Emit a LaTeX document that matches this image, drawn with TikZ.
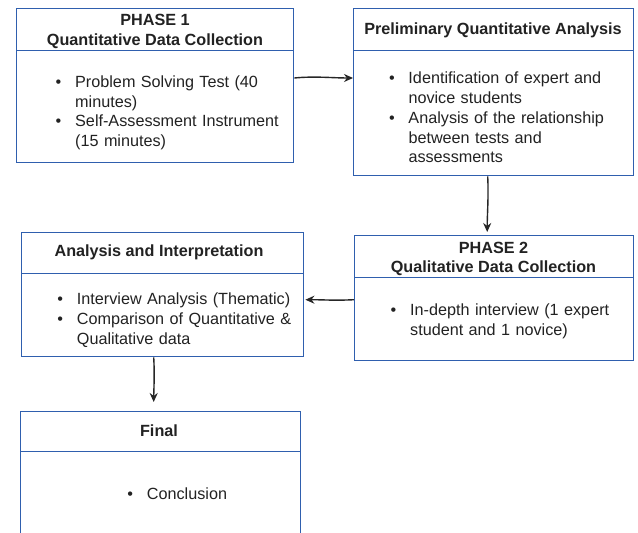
\documentclass[tikz,border=0pt]{standalone}
\usepackage{fontspec}
\setmainfont{Liberation Sans}
\usetikzlibrary{arrows.meta}
\definecolor{boxblue}{HTML}{2F5FAE}
\definecolor{txt}{HTML}{222222}
\newcommand{\bitem}[1]{\hangindent=19.5pt\hangafter=1\noindent\makebox[19.5pt][l]{\textbullet}#1\par}
\tikzset{
  boxpart/.style={draw=boxblue, line width=1.4pt, inner sep=0pt, anchor=north west, fill=white},
  headtext/.style={inner sep=0pt, anchor=base, align=center, text=txt, font=\fontsize{16.2}{19.5}\selectfont\bfseries},
  bodytext/.style={inner sep=0pt, anchor=north west, text width=250pt, text=txt, font=\fontsize{16.2}{19.7}\selectfont},
  arr/.style={draw=black!85, line width=1.4pt, -{Stealth[length=9pt,width=8pt]}}
}
\begin{document}
\begin{tikzpicture}[x=1pt,y=-1pt]
\clip (0,0) rectangle (638,533);
\fill[white] (0,0) rectangle (638,533);
% Box 1
\node[boxpart, minimum width=277pt, minimum height=42pt] (b1head) at (16,8) {};
\node[boxpart, minimum width=277pt, minimum height=112pt] (b1body) at (16,50) {};
\node[headtext] (t1) at (155,45) {PHASE 1\\Quantitative Data Collection};
\node[bodytext] (l1) at (55.5,75.5) {\parindent=0pt
  \bitem{Problem Solving Test (40\newline minutes)}
  \bitem{Self-Assessment Instrument\newline (15 minutes)}};
% Box 2
\node[boxpart, minimum width=280pt, minimum height=42pt] (b2head) at (353,8) {};
\node[boxpart, minimum width=280pt, minimum height=125pt] (b2body) at (353,50) {};
\node[headtext] (t2) at (493,34.5) {Preliminary Quantitative Analysis};
\node[bodytext] (l2) at (388.8,72) {\parindent=0pt
  \bitem{Identification of expert and\newline novice students}
  \bitem{Analysis of the relationship\newline between tests and\newline assessments}};
% Box 3
\node[boxpart, minimum width=282pt, minimum height=41pt] (b3head) at (21,232) {};
\node[boxpart, minimum width=282pt, minimum height=83pt] (b3body) at (21,273) {};
\node[headtext] (t3) at (159,256.5) {Analysis and Interpretation};
\node[bodytext] (l3) at (57.2,293) {\parindent=0pt
  \bitem{Interview Analysis (Thematic)}
  \bitem{Comparison of Quantitative \&\newline Qualitative data}};
% Box 4
\node[boxpart, minimum width=279pt, minimum height=42pt] (b4head) at (354,235) {};
\node[boxpart, minimum width=279pt, minimum height=83pt] (b4body) at (354,277) {};
\node[headtext] (t4) at (493.5,272.5) {PHASE 2\\Qualitative Data Collection};
\node[bodytext] (l4) at (390.5,304) {\parindent=0pt
  \bitem{In-depth interview (1 expert\newline student and 1 novice)}};
% Box 5
\node[boxpart, minimum width=280pt, minimum height=40pt] (b5head) at (20,411) {};
\node[boxpart, minimum width=280pt, minimum height=110pt] (b5body) at (20,451) {};
\node[headtext] (t5) at (159,436.5) {Final};
\node[bodytext] (l5) at (127.2,488) {\parindent=0pt
  \bitem{Conclusion}};
% Arrows
\draw[arr] ([yshift=-28pt]b1body.north east) .. controls +(20,-2) and +(-20,0) .. ([yshift=-28pt]b2body.north west);
\draw[arr, shorten >=3pt] ([xshift=-6pt]b2body.south) .. controls +(1,20) and +(0,-20) .. ([xshift=-7pt]b4head.north);
\draw[arr, shorten >=1pt] ([yshift=19.5pt]b4body.west) .. controls +(-20,1) and +(20,0) .. ([yshift=15.5pt]b3body.east);
\draw[arr, shorten >=9pt] ([xshift=-9pt]b3body.south) .. controls +(1,15) and +(0,-15) .. ([xshift=-7pt]b5head.north);
\end{tikzpicture}
\end{document}
